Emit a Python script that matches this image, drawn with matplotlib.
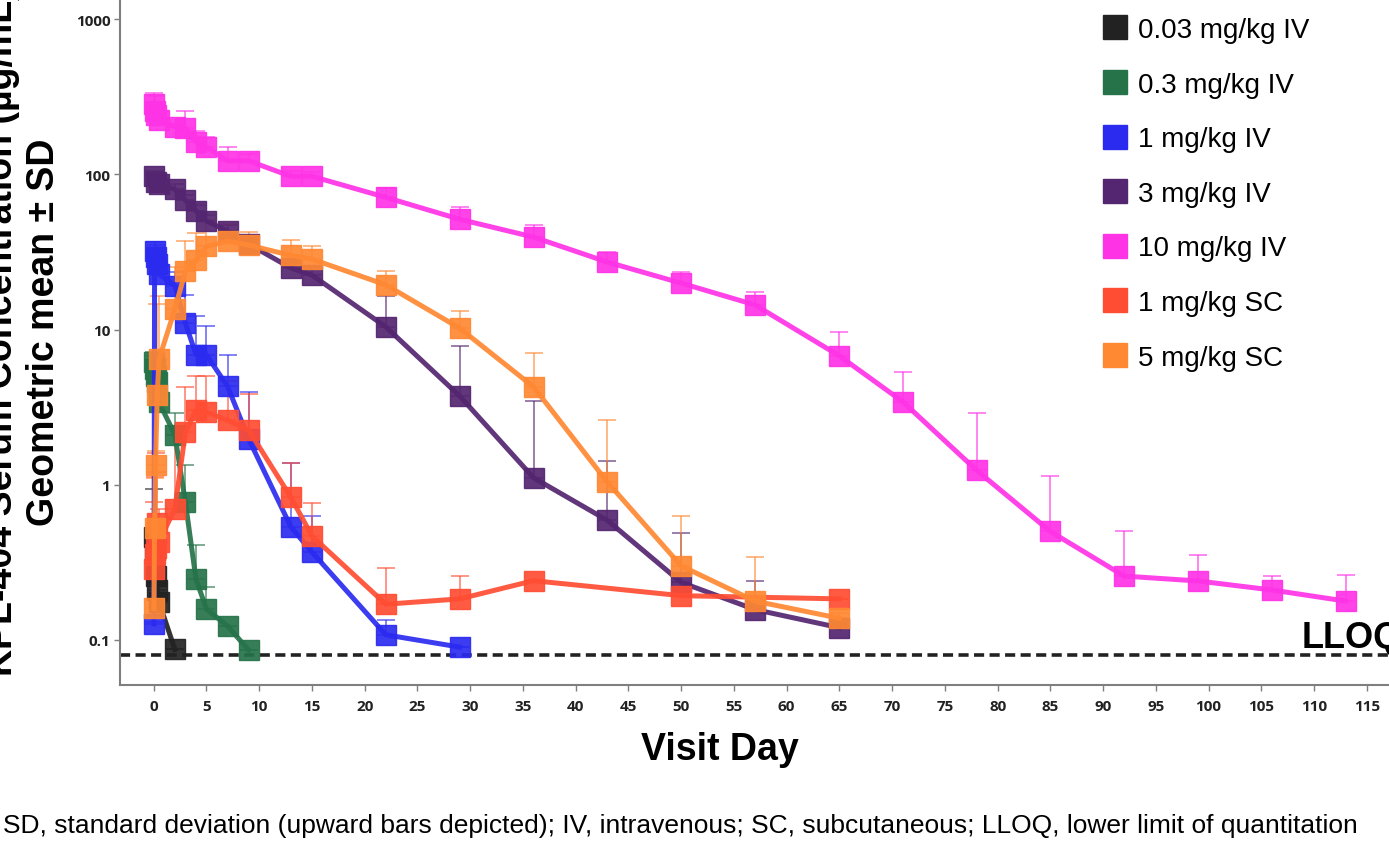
import matplotlib
matplotlib.use('Agg')
import matplotlib.pyplot as plt
from matplotlib.lines import Line2D
import numpy as np

# DATA (geometric mean and mean + SD)
labels = ['0.03 mg/kg IV', '0.3 mg/kg IV', '1 mg/kg IV', '3 mg/kg IV',
          '10 mg/kg IV', '1 mg/kg SC', '5 mg/kg SC']
colors = ['#222222', '#26734a', '#2b2bf0', '#542570', '#ff33e6', '#ff4d33', '#ff8833']

day_003 = [0.02, 0.08, 0.17, 0.33, 0.5, 2]
mean_003 = [0.46, 0.38, 0.26, 0.21, 0.175, 0.087]
upper_003 = [0.94, 0.56, 0.45, 0.30, 0.20, 0.087]

day_03 = [0.02, 0.08, 0.17, 0.33, 0.5, 2, 3, 4, 5, 7, 9]
mean_03 = [6.2, 5.6, 5.0, 4.6, 3.4, 2.1, 0.77, 0.247, 0.158, 0.123, 0.086]
upper_03 = [7.2, 6.8, 6.5, 6.0, 5.0, 2.9, 1.34, 0.41, 0.22, 0.123, 0.086]

day_1iv = [0.02, 0.08, 0.17, 0.33, 0.5, 2, 3, 4, 5, 7, 9, 13, 15, 22, 29]
mean_1iv = [0.127, 32, 29.3, 26.4, 22.7, 19.2, 11.0, 6.9, 6.85, 4.3, 1.97, 0.535, 0.368, 0.108, 0.09]
upper_1iv = [0.13, 36.5, 35, 31, 27, 23.4, 16.7, 12.2, 10.5, 6.9, 3.95, 1.38, 0.63, 0.135, 0.09]

day_3iv = [0.02, 0.17, 0.5, 2, 3, 4, 5, 7, 9, 13, 15, 22, 29, 36, 43, 50, 57, 65]
mean_3iv = [97, 89, 86.5, 80, 68, 58, 50, 43, 35.5, 24.9, 22.4, 10.4, 3.73, 1.11, 0.59, 0.235, 0.157, 0.12]
upper_3iv = [105, 97, 93, 86, 74, 63, 55, 47, 39, 28, 25, 16.5, 7.8, 3.47, 1.42, 0.49, 0.24, 0.135]

day_10iv = [0.02, 0.08, 0.17, 0.5, 2, 3, 4, 5, 7, 9, 13, 15, 22, 29, 36, 43, 50, 57, 65,
            71, 78, 85, 92, 99, 106, 113]
mean_10iv = [283, 255, 241, 223, 202, 199, 161, 150, 122, 122, 97, 97, 71, 51.3, 39.4, 27.2,
             19.9, 14.4, 6.76, 3.43, 1.24, 0.50, 0.258, 0.24, 0.21, 0.178]
upper_10iv = [334, 319, 290, 250, 210, 256, 190, 173, 150, 135, 105, 103, 81, 61.5, 47, 31.4,
              23.4, 17.4, 9.6, 5.3, 2.9, 1.14, 0.50, 0.353, 0.258, 0.262]

day_1sc = [0.02, 0.08, 0.17, 0.33, 0.5, 2, 3, 4, 5, 7, 9, 13, 15, 22, 29, 36, 50, 65]
mean_1sc = [0.287, 0.358, 0.39, 0.57, 0.43, 0.70, 2.18, 3.02, 2.93, 2.6, 2.25, 0.83, 0.467,
            0.17, 0.184, 0.241, 0.193, 0.184]
upper_1sc = [0.77, 1.12, 1.6, 1.2, 0.7, 2.1, 4.25, 5.0, 5.0, 4.65, 3.85, 1.38, 0.76,
             0.29, 0.26, 0.241, 0.193, 0.184]

day_5sc = [0.02, 0.08, 0.17, 0.33, 0.5, 2, 3, 4, 5, 7, 9, 13, 15, 22, 29, 36, 43, 50, 57, 65]
mean_5sc = [0.16, 0.53, 1.34, 3.8, 6.45, 13.5, 23.7, 27.9, 34.3, 37, 35, 30, 28.4, 19.4,
            10.2, 4.27, 1.04, 0.30, 0.178, 0.138]
upper_5sc = [0.45, 1.1, 1.65, 14.5, 16.4, 25.3, 37, 41.6, 50.6, 47.7, 42.4, 38, 34.5, 23.7,
             13.1, 7.05, 2.6, 0.63, 0.34, 0.15]

days = [day_003, day_03, day_1iv, day_3iv, day_10iv, day_1sc, day_5sc]
means = [mean_003, mean_03, mean_1iv, mean_3iv, mean_10iv, mean_1sc, mean_5sc]
uppers = [upper_003, upper_03, upper_1iv, upper_3iv, upper_10iv, upper_1sc, upper_5sc]

lloq = 0.08
xticks = np.arange(0, 120, 5)
yticks = [0.1, 1, 10, 100, 1000]
ytick_labels = ['0.1', '1', '10', '100', '1000']

# PLOTTING
W, H = 1389, 845
fig = plt.figure(figsize=(W / 100, H / 100), dpi=100)
ax = fig.add_axes([120 / W, 159 / H, 1269 / W, 686 / H])

for d, m, u, c in zip(days, means, uppers, colors):
    d = np.array(d)
    m = np.array(m)
    u = np.array(u)
    ax.errorbar(d, m, yerr=[np.zeros_like(m), u - m], fmt='none', ecolor=c,
                elinewidth=1.1, capsize=6.5, capthick=1.1, alpha=0.75, zorder=2)
    ax.plot(d, m, color=c, lw=3.6, marker='s', markersize=14, markerfacecolor=c,
            markeredgecolor=c, markeredgewidth=1, alpha=0.92, zorder=3)

# LLOQ line
ax.axhline(lloq, color='#222222', lw=2.6, ls=(0, (2.8, 1.5)), zorder=1)
ax.text(108.8, 0.09, 'LLOQ', fontsize=26, fontweight='bold', family='Liberation Sans',
        ha='left', va='baseline', clip_on=False)

ax.set_yscale('log')
ax.set_xlim(-3.2, 117.1)
ax.set_ylim(0.0513, 1346)
ax.set_xticks(xticks)
ax.set_xticklabels([str(t) for t in xticks])
ax.set_yticks(yticks)
ax.set_yticklabels(ytick_labels)
ax.yaxis.set_minor_locator(matplotlib.ticker.NullLocator())

for lab in ax.get_xticklabels() + ax.get_yticklabels():
    lab.set_family('Open Sans')
    lab.set_fontweight('bold')
    lab.set_fontsize(11)
    lab.set_color('#222222')

ax.tick_params(axis='both', length=4, width=1, color='#7f7f7f', direction='out')
ax.tick_params(axis='x', pad=6)
ax.tick_params(axis='y', pad=3)
for s in ['top', 'right']:
    ax.spines[s].set_visible(False)
for s in ['left', 'bottom']:
    ax.spines[s].set_color('#7f7f7f')
    ax.spines[s].set_linewidth(1.5)

# axis titles
fig.text(62 / W, (H - 332) / H, 'KPL-404 Serum Concentration (µg/mL)\nGeometric mean ± SD',
         rotation=90, ha='right', va='center', multialignment='center',
         fontsize=27, fontweight='bold', family='Liberation Sans')
fig.text(720 / W, (H - 750) / H, 'Visit Day', ha='center', va='center',
         fontsize=27, fontweight='bold', family='Liberation Sans')

# legend
handles = [Line2D([], [], ls='none', marker='s', markersize=17, markerfacecolor=c,
                  markeredgecolor=c) for c in colors]
ax.legend(handles, labels, loc='upper left', bbox_to_anchor=(1101 / W, (H - 18) / H),
          bbox_transform=fig.transFigure, frameon=False, borderpad=0, borderaxespad=0,
          handlelength=1.0, handletextpad=0.33, labelspacing=1.03,
          prop={'family': 'Liberation Sans', 'size': 20})

# footnote
fig.text(3 / W, (H - 826) / H,
         'SD, standard deviation (upward bars depicted); IV, intravenous; SC, subcutaneous; '
         'LLOQ, lower limit of quantitation',
         ha='left', va='center', fontsize=19, family='Liberation Sans')

fig.savefig('out.png', dpi=100)
